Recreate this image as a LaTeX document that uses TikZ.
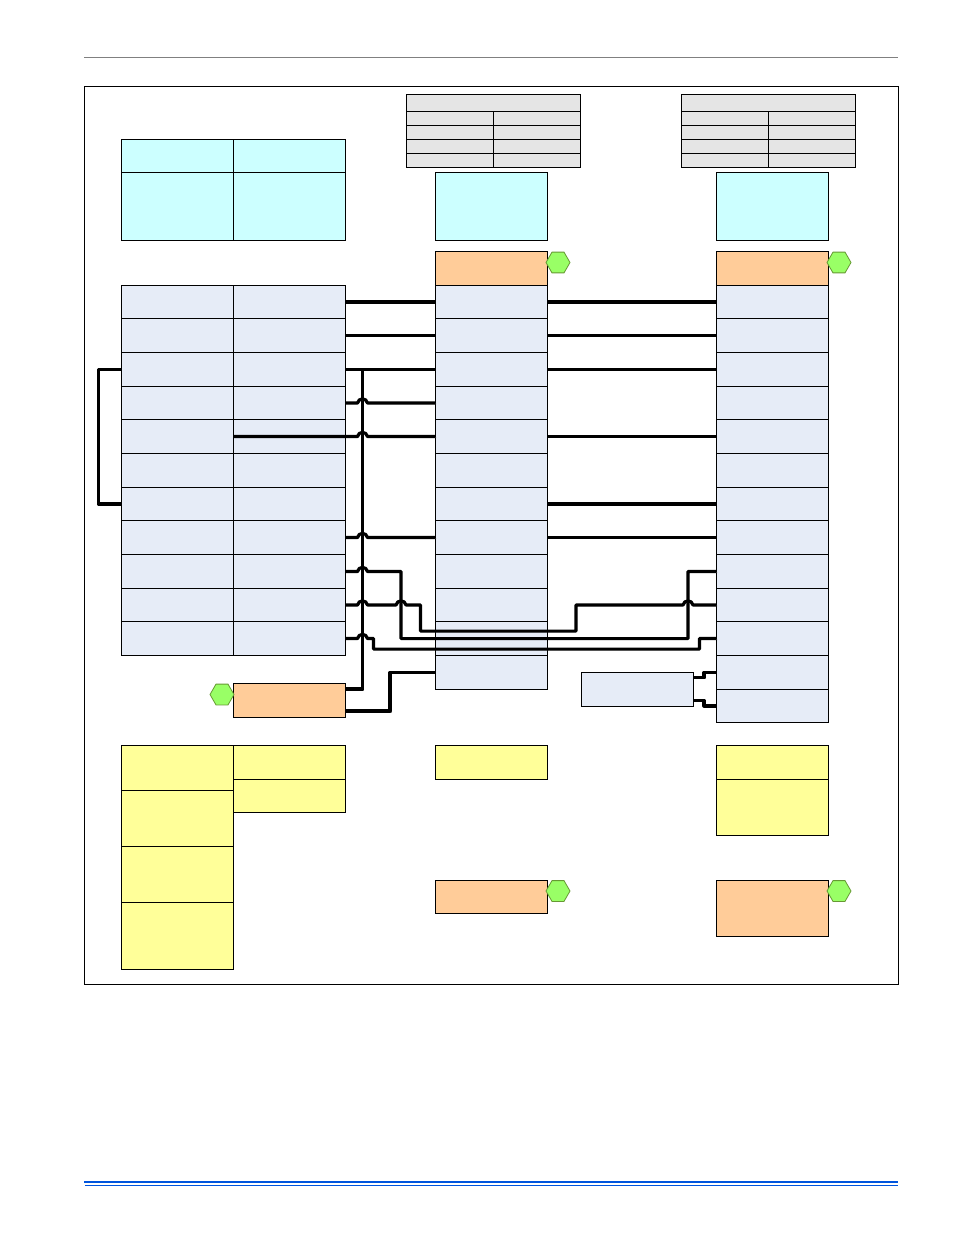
\documentclass[tikz,border=0pt]{standalone}
\usepackage{tikz}
\usetikzlibrary{shapes.geometric}
\definecolor{rowblue}{HTML}{E6ECF7}
\definecolor{headcyan}{HTML}{CCFFFF}
\definecolor{termorange}{HTML}{FFCC99}
\definecolor{noteyellow}{HTML}{FFFF99}
\definecolor{tablegray}{HTML}{E5E5E5}
\definecolor{hexgreen}{HTML}{99FF66}
\definecolor{hexedge}{HTML}{669933}
\definecolor{ruleblue}{HTML}{0055DD}
\tikzset{
  rowcell/.style={fill=rowblue},
  headcell/.style={fill=headcyan},
  termcell/.style={fill=termorange},
  notecell/.style={fill=noteyellow},
  graycell/.style={fill=tablegray},
  hexmark/.style={regular polygon,regular polygon sides=6,draw=hexedge,fill=hexgreen,
    line width=0.8pt,minimum size=24pt,inner sep=0pt,outer sep=0pt},
  wire/.style={line width=3.2pt,line join=round,yshift=0.4pt,
    preaction={draw=black!35,transform canvas={xshift=0.8pt,yshift=-0.8pt}}}
}
% style, name, left, top, right, bottom
\newcommand*{\block}[6]
  {\node[#1,draw=black,line width=1pt,anchor=north west,inner sep=0pt,outer sep=0pt,
    minimum width={(#5-#3)*1pt},minimum height={(#6-#4)*1pt}] (#2) at (#3,#4) {}}
\newcommand*{\hop}[2]
  {-- (#1-5,0 |- #2) .. controls +(1,-5.5) and +(-1,-5.5) .. +(10,0)}

\begin{document}
\begin{tikzpicture}[x=1pt,y=-1pt]
\useasboundingbox (0,0) rectangle (954,1235);
\draw[black!50,line width=1pt] (84,57.5) -- (898,57.5);
\draw[line width=1pt] (84.5,86.5) rectangle (898.5,984.5);
\draw[ruleblue,line width=2.4pt] (84,1182) -- (898,1182);
\draw[ruleblue,line width=1pt] (85,1185.5) -- (898,1185.5);
% gray tables
\block{graycell}{ga0}{406.5}{94.5}{580.5}{111.5};
\block{graycell}{gb0}{681.5}{94.5}{855.5}{111.5};
\foreach \n/\top/\bot in {1/111.5/125.5,2/125.5/139.5,3/139.5/153.5,4/153.5/167.5} {
  \block{graycell}{gal\n}{406.5}{\top}{493.5}{\bot};
  \block{graycell}{gar\n}{493.5}{\top}{580.5}{\bot};
  \block{graycell}{gbl\n}{681.5}{\top}{768.5}{\bot};
  \block{graycell}{gbr\n}{768.5}{\top}{855.5}{\bot};
}
% cyan heads
\block{headcell}{ha1}{121.5}{139.5}{233.5}{172.5};
\block{headcell}{hb1}{233.5}{139.5}{345.5}{172.5};
\block{headcell}{ha2}{121.5}{172.5}{233.5}{240.5};
\block{headcell}{hb2}{233.5}{172.5}{345.5}{240.5};
\block{headcell}{hm}{435.5}{172.5}{547.5}{240.5};
\block{headcell}{hr}{716.5}{172.5}{828.5}{240.5};
% terminal rows
\block{termcell}{tm}{435.5}{251.5}{547.5}{285.5};
\block{termcell}{tr}{716.5}{251.5}{828.5}{285.5};
\foreach \n/\top/\bot in {1/285.5/318.5,2/318.5/352.5,3/352.5/386.5,4/386.5/419.5,
    5/419.5/453.5,6/453.5/487.5,7/487.5/520.5,8/520.5/554.5,9/554.5/588.5,
    10/588.5/621.5,11/621.5/655.5} {
  \block{rowcell}{la\n}{121.5}{\top}{233.5}{\bot};
  \block{rowcell}{lb\n}{233.5}{\top}{345.5}{\bot};
  \block{rowcell}{m\n}{435.5}{\top}{547.5}{\bot};
  \block{rowcell}{r\n}{716.5}{\top}{828.5}{\bot};
}
\block{rowcell}{m12}{435.5}{655.5}{547.5}{689.5};
\block{rowcell}{r12}{716.5}{655.5}{828.5}{689.5};
\block{rowcell}{r13}{716.5}{689.5}{828.5}{722.5};
\block{rowcell}{aux}{581.5}{672.5}{693.5}{706.5};
\block{termcell}{tl}{233.5}{683.5}{345.5}{717.5};
% yellow notes
\block{notecell}{na1}{121.5}{745.5}{233.5}{790.5};
\block{notecell}{na2}{121.5}{790.5}{233.5}{846.5};
\block{notecell}{na3}{121.5}{846.5}{233.5}{902.5};
\block{notecell}{na4}{121.5}{902.5}{233.5}{969.5};
\block{notecell}{nb1}{233.5}{745.5}{345.5}{779.5};
\block{notecell}{nb2}{233.5}{779.5}{345.5}{812.5};
\block{notecell}{nm}{435.5}{745.5}{547.5}{779.5};
\block{notecell}{nr1}{716.5}{745.5}{828.5}{779.5};
\block{notecell}{nr2}{716.5}{779.5}{828.5}{835.5};
\block{termcell}{bm}{435.5}{880.5}{547.5}{913.5};
\block{termcell}{br}{716.5}{880.5}{828.5}{936.5};
% hexagons
\node[hexmark] (xtm) at (558,262.5) {};
\node[hexmark] (xtr) at (839,262.5) {};
\node[hexmark] (xtl) at (222,694.5) {};
\node[hexmark] (xbm) at (558,891) {};
\node[hexmark] (xbr) at (839,891) {};
% free ends on the boxes
\coordinate (tltop) at (345.5,689);
\coordinate (tlbot) at (345.5,711);
\coordinate (auxtop) at (693.5,677.5);
\coordinate (auxbot) at (693.5,700.5);
% wires
\draw[wire] (lb1.east) -- (m1.west);
\draw[wire] (m1.east) -- (r1.west);
\draw[wire] (lb2.east) -- (m2.west);
\draw[wire] (m2.east) -- (r2.west);
\draw[wire] (lb3.east) -- (m3.west);
\draw[wire] (m3.east) -- (r3.west);
\draw[wire] (m5.east) -- (r5.west);
\draw[wire] (m7.east) -- (r7.west);
\draw[wire] (m8.east) -- (r8.west);
\draw[wire] (la3.west) -- (98.5,0 |- la3) -- (98.5,0 |- la7) -- (la7.west);
\draw[wire] (tltop) -- (362.5,0 |- tltop) -- (362.5,0 |- lb3);
\draw[wire] (lb4.east) \hop{362.5}{lb4} -- (m4.west);
\draw[wire] (lb5.west) \hop{362.5}{lb5} -- (m5.west);
\draw[wire] (lb8.east) \hop{362.5}{lb8} -- (m8.west);
\draw[wire] (lb9.east) \hop{362.5}{lb9} -- (401,0 |- lb9) -- (401,639) -- (688,639) -- (688,0 |- r9) -- (r9.west);
\draw[wire] (lb10.east) \hop{362.5}{lb10} \hop{401}{lb10} -- (420.5,0 |- lb10) -- (420.5,631.5) -- (576,631.5)
  -- (576,0 |- r10) \hop{688}{r10} -- (r10.west);
\draw[wire] (lb11.east) \hop{362.5}{lb11} -- (373.5,0 |- lb11) -- (373.5,649.5) -- (699.5,649.5) -- (699.5,0 |- r11) -- (r11.west);
\draw[wire] (tlbot) -- (390,0 |- tlbot) -- (390,0 |- m12) -- (m12.west);
\draw[wire] (auxtop) -- (704,0 |- auxtop) -- (704,0 |- r12) -- (r12.west);
\draw[wire] (auxbot) -- (704,0 |- auxbot) -- (704,0 |- r13) -- (r13.west);
\end{tikzpicture}
\end{document}
